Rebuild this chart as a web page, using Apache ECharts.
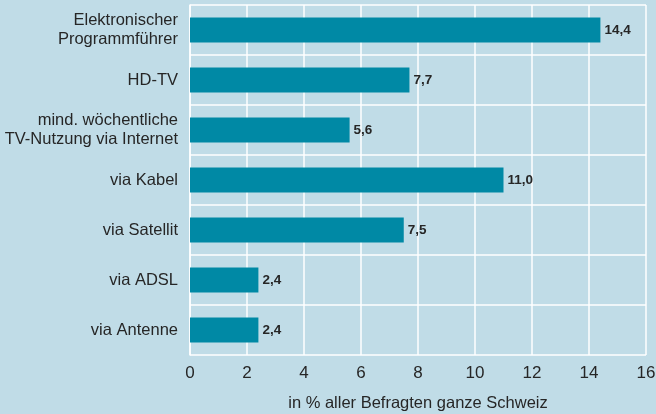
<!DOCTYPE html>
<html>
<head>
<meta charset="utf-8">
<script src="https://cdn.jsdelivr.net/npm/echarts@6/dist/echarts.min.js"></script>
<style>
  html, body { margin: 0; padding: 0; background: #c0dce7; }
  #chart { width: 656px; height: 414px; }
</style>
</head>
<body>
<div id="chart"></div>
<script>
// categories from bottom to top (category axis starts at bottom)
var categories = ["via Antenne", "via ADSL", "via Satellit", "via Kabel",
    "mind. wöchentliche\nTV-Nutzung via Internet", "HD-TV", "Elektronischer\nProgrammführer"];
var values = [2.4, 2.4, 7.5, 11.0, 5.6, 7.7, 14.4];
var xTicks = [0, 2, 4, 6, 8, 10, 12, 14, 16];

var chart = echarts.init(document.getElementById("chart"));

var option = {
    backgroundColor: "#c0dce7",
    textStyle: { fontFamily: "Liberation Sans" },
    grid: { left: 190, right: 10, top: 5, bottom: 59, outerBoundsMode: "none" },
    xAxis: {
        type: "value",
        min: xTicks[0],
        max: xTicks[xTicks.length - 1],
        interval: 2,
        name: "in % aller Befragten ganze Schweiz",
        nameLocation: "middle",
        nameGap: 40,
        nameTextStyle: { color: "#262626", fontSize: 16.5 },
        axisLine: { show: false },
        axisTick: { show: false },
        axisLabel: { color: "#262626", fontSize: 17, margin: 10 },
        splitLine: { show: true, lineStyle: { color: "#ffffff", width: 1.5 } }
    },
    yAxis: {
        type: "category",
        data: categories,
        axisLine: { show: true, lineStyle: { color: "#ffffff", width: 1.5 } },
        axisTick: { show: false },
        axisLabel: { color: "#262626", fontSize: 16.5, margin: 12, lineHeight: 19 },
        splitLine: { show: true, lineStyle: { color: "#ffffff", width: 1.5 } }
    },
    series: [{
        type: "bar",
        data: values,
        barWidth: "50%",
        itemStyle: { color: "#0089a5" },
        label: {
            show: true,
            position: "right",
            distance: 4,
            color: "#262626",
            fontSize: 13.5,
            fontWeight: "bold",
            formatter: function (p) { return p.value.toFixed(1).replace(".", ","); }
        }
    }]
};

chart.setOption(option);
</script>
</body>
</html>
